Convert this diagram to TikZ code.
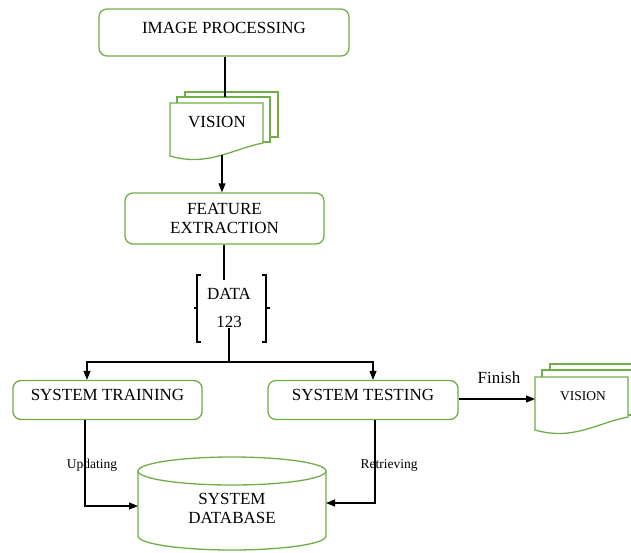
\documentclass[tikz,border=0pt]{standalone}
\usepackage{fontspec}
\setmainfont{Liberation Serif}
\usetikzlibrary{arrows.meta,calc}
\definecolor{boxgreen}{RGB}{112,173,71}
\tikzset{
  procbox/.style={draw=boxgreen, line width=1.3pt, rounded corners=8pt, fill=white, inner sep=0pt},
  page/.style={draw=boxgreen, line width=1.3pt, fill=white},
  conn/.style={draw=black, line width=1.1pt},
  arr/.style={conn, -{Triangle[length=9pt,width=7pt]}},
  big/.style={font=\fontsize{17}{19}\selectfont, align=center, inner sep=2pt},
  small/.style={font=\fontsize{13.5}{15}\selectfont, inner sep=1pt},
  % a single document sheet with a wavy lower edge, top-left corner at the origin
  docfront/.pic={\draw[page] (0,0) -- (93,0) -- (93,40) .. controls (62,46) and (38,64) .. (0,53) -- cycle;},
  docback/.pic={\draw[page] (0,0) rectangle (93,45);}
}
\begin{document}
\begin{tikzpicture}[x=1pt,y=-1pt]
\useasboundingbox (0,0) rectangle (631,552);

% process boxes
\node[procbox, minimum width=250pt, minimum height=47pt] (imgproc) at (224,32.5) {};
\node[big] (imgproc-t) at (224,28) {IMAGE PROCESSING};

\node[procbox, minimum width=199pt, minimum height=51pt] (featext) at (224.5,218.5) {};
\node[big] (featext-t) at (224.5,218.5) {FEATURE\\EXTRACTION};

\node[procbox, minimum width=189pt, minimum height=39pt] (train) at (107.5,400) {};
\node[big] (train-t) at (107.5,395) {SYSTEM TRAINING};

\node[procbox, minimum width=190pt, minimum height=39pt] (test) at (363,400) {};
\node[big] (test-t) at (363,395) {SYSTEM TESTING};

% stacked documents under IMAGE PROCESSING
\pic at (185,92) {docback};
\pic at (177,97) {docback};
\pic at (170,103) {docfront};
\node[big] (vision1) at (217,122) {VISION};
\coordinate (doc1top) at (225,97);
\coordinate (doc1bot) at (222,155);

% stacked documents at the right edge
\begin{scope}
\clip (0,0) rectangle (631,552);
\pic at (550,364) {docback};
\pic at (542,370) {docback};
\pic at (535,377) {docfront};
\end{scope}
\node[small] (vision2) at (583,396) {VISION};
\coordinate (doc2in) at (535,399);

% data bracket
\node[big] (data) at (229,294) {DATA};
\node[big, inner sep=0pt] (num) at (229,322) {123};
\draw[conn] (201,275) -- (197,275) -- (197,342) -- (201,342) (197,308) -- (194,308);
\draw[conn] (262,275) -- (266,275) -- (266,342) -- (262,342) (266,308) -- (270,308);
\coordinate (datatop) at (224,280);
\coordinate (split) at (229,362);

% database cylinder
\draw[page] (138,471) -- (138,536) arc[start angle=180, end angle=360, x radius=94pt, y radius=14pt] -- (326,471);
\draw[page] (232,471) ellipse[x radius=94pt, y radius=14pt];
\node[big] (db) at (232,508) {SYSTEM\\DATABASE};
\coordinate (dbL) at (138,506);
\coordinate (dbR) at (326,503);

% connectors
\draw[conn] (imgproc.south -| doc1top) -- (doc1top);
\draw[arr] (doc1bot) -- (doc1bot |- featext.north);
\draw[conn] (featext.south -| datatop) -- (datatop);
\draw[conn] (num.south) -- (split);
\draw[arr] (split) -| ([xshift=-20.5pt]train.north);
\draw[arr] (split) -| ([xshift=10pt]test.north);
\draw[arr] (test.east |- doc2in) -- (doc2in);
\draw[arr] ([xshift=-22.5pt]train.south) |- (dbL);
\draw[arr] ([xshift=12pt]test.south) |- (dbR);

% connector labels
\node[big, anchor=base] (finish) at (499,383) {Finish};
\node[small, anchor=base] (upd) at (92,468) {Updating};
\node[small, anchor=base] (ret) at (389,468) {Retrieving};
\end{tikzpicture}
\end{document}
